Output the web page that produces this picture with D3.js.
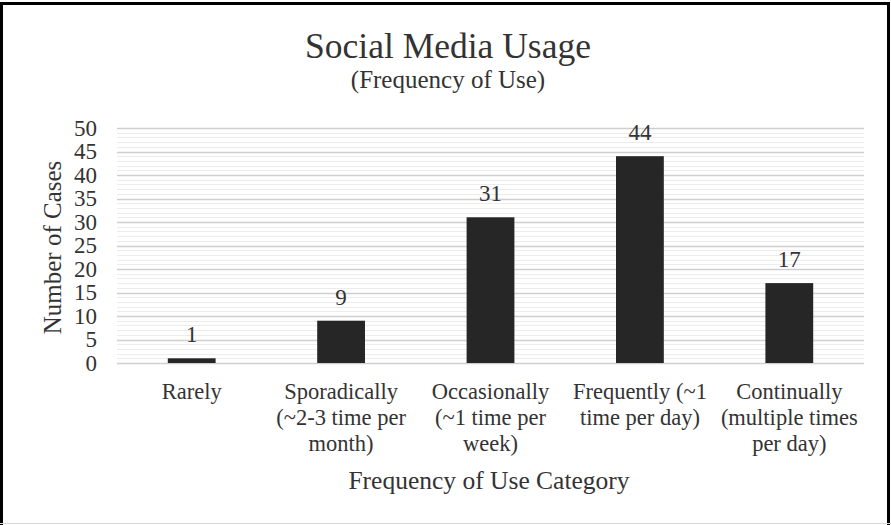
<!DOCTYPE html>
<html>
<head>
<meta charset="utf-8">
<script src="https://cdn.jsdelivr.net/npm/d3@7"></script>
<style>
  body { margin: 0; background: #fff; }
  svg { display: block; }
  svg text { font-family: "Liberation Serif", "Times New Roman", serif; }
</style>
</head>
<body>
<div id="chart"></div>
<script>
/* DATA */
const categories = ["Rarely", "Sporadically", "Occasionally", "Frequently", "Continually"];
const categoryLabels = [
  ["Rarely"],
  ["Sporadically", "(~2-3 time per", "month)"],
  ["Occasionally", "(~1 time per", "week)"],
  ["Frequently (~1", "time per day)"],
  ["Continually", "(multiple times", "per day)"]
];
const cases = [1, 9, 31, 44, 17];
const yTicks = [0, 5, 10, 15, 20, 25, 30, 35, 40, 45, 50];

/* CONSTANTS */
const width = 891,
  height = 525,
  margin = { top: 128, right: 27, bottom: 162, left: 117 };
const textColor = "#333";

const svg = d3.select("#chart")
  .append("svg")
  .attr("width", width)
  .attr("height", height);

svg.append("rect")
  .attr("width", width)
  .attr("height", height)
  .attr("fill", "#fff");

// frame (black on left, top and right; soft line at the bottom)
svg.append("path")
  .attr("d", `M1.5,${height} V3.5 H888.5 V${height}`)
  .attr("fill", "none")
  .attr("stroke", "#000")
  .attr("stroke-width", 3);
svg.append("line")
  .attr("x1", 0).attr("x2", width)
  .attr("y1", 523.5).attr("y2", 523.5)
  .attr("stroke", "#d8d8d8");

/* SCALES */
const xScale = d3.scaleBand()
  .domain(categories)
  .range([margin.left, width - margin.right])
  .paddingInner(0.68)
  .paddingOuter(0.34);

const yScale = d3.scaleLinear()
  .domain([0, 50])
  .range([height - margin.bottom, margin.top]);

/* GRIDLINES */
svg.append("g")
  .selectAll("line")
  .data(d3.range(0, 51).filter(d => d % 5 !== 0))
  .join("line")
  .attr("x1", margin.left)
  .attr("x2", width - margin.right)
  .attr("y1", d => Math.round(yScale(d)) + 0.5)
  .attr("y2", d => Math.round(yScale(d)) + 0.5)
  .attr("stroke", "#ececec");

svg.append("g")
  .selectAll("line")
  .data(yTicks)
  .join("line")
  .attr("x1", margin.left)
  .attr("x2", width - margin.right)
  .attr("y1", d => Math.round(yScale(d)) + 0.5)
  .attr("y2", d => Math.round(yScale(d)) + 0.5)
  .attr("stroke", "#cfcfcf")
  .attr("stroke-width", 1.5);

/* AXES */
const yAxis = d3.axisLeft(yScale)
  .tickValues(yTicks)
  .tickSize(0)
  .tickPadding(0);

svg.append("g")
  .attr("transform", `translate(${margin.left - 20}, 0)`)
  .call(yAxis)
  .call(g => g.select(".domain").remove())
  .call(g => g.selectAll("text")
    .attr("font-size", 23)
    .attr("fill", textColor));

const xAxis = d3.axisBottom(xScale).tickSize(0).tickFormat("");
const xAxisGroup = svg.append("g")
  .attr("transform", `translate(0, ${height - margin.bottom})`)
  .call(xAxis)
  .call(g => g.select(".domain").remove());

xAxisGroup.selectAll(".tick")
  .append("text")
  .attr("fill", textColor)
  .attr("font-size", 22.5)
  .attr("text-anchor", "middle")
  .attr("y", 36)
  .selectAll("tspan")
  .data((d, i) => categoryLabels[i])
  .join("tspan")
  .attr("x", 0)
  .attr("dy", (d, i) => i === 0 ? 0 : 26)
  .text(d => d);

/* BARS */
svg.append("g")
  .selectAll("rect")
  .data(cases)
  .join("rect")
  .attr("x", (d, i) => xScale(categories[i]))
  .attr("width", xScale.bandwidth())
  .attr("y", d => yScale(d))
  .attr("height", d => yScale(0) - yScale(d))
  .attr("fill", "#262626");

svg.append("g")
  .selectAll("text")
  .data(cases)
  .join("text")
  .attr("x", (d, i) => xScale(categories[i]) + xScale.bandwidth() / 2)
  .attr("y", d => yScale(d) - 16)
  .attr("text-anchor", "middle")
  .attr("font-size", 23)
  .attr("fill", textColor)
  .text(d => d);

/* TITLES */
svg.append("text")
  .attr("x", 448)
  .attr("y", 58)
  .attr("text-anchor", "middle")
  .attr("font-size", 35.5)
  .attr("fill", textColor)
  .text("Social Media Usage");

svg.append("text")
  .attr("x", 448)
  .attr("y", 88)
  .attr("text-anchor", "middle")
  .attr("font-size", 25)
  .attr("fill", textColor)
  .text("(Frequency of Use)");

svg.append("text")
  .attr("transform", `translate(61, ${(margin.top + height - margin.bottom) / 2 + 2}) rotate(-90)`)
  .attr("text-anchor", "middle")
  .attr("font-size", 25)
  .attr("fill", textColor)
  .text("Number of Cases");

svg.append("text")
  .attr("x", 489)
  .attr("y", 489)
  .attr("text-anchor", "middle")
  .attr("font-size", 25.5)
  .attr("fill", textColor)
  .text("Frequency of Use Category");
</script>
</body>
</html>
